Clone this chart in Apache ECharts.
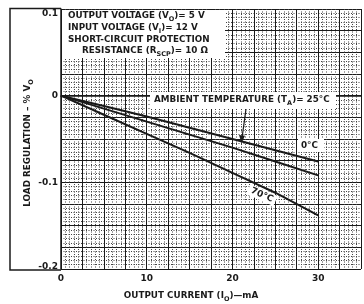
<!DOCTYPE html>
<html><head><meta charset="utf-8">
<script src="https://cdn.jsdelivr.net/npm/echarts@6/dist/echarts.min.js"></script>
<style>html,body{margin:0;padding:0;background:#fff}#c{width:364px;height:304px}</style>
</head><body><div id="c"></div>
<script>
// Output current (mA)
const current = [0, 5, 10, 15, 20, 25, 30];
// Load regulation (% VO) per ambient temperature
const reg0C  = [0, -0.012, -0.024, -0.037, -0.050, -0.063, -0.076];
const reg25C = [0, -0.015, -0.030, -0.045, -0.060, -0.076, -0.092];
const reg70C = [0, -0.022, -0.044, -0.066, -0.089, -0.112, -0.138];
const xTickLabels = {0: '0', 10: '10', 20: '20', 30: '30'};
const yTickLabels = {'0.1': '0.1', '0': '0', '-0.1': '-0.1', '-0.2': '-0.2'};

const FONT = 'DejaVu Sans';
const INK = '#1a1a1a';
const pair = arr => current.map((x, i) => [x, arr[i]]);

const chart = echarts.init(document.getElementById('c'), null, {renderer: 'canvas'});
const mk = (name, data) => ({
  name, type: 'line', data: pair(data), symbol: 'none', smooth: false,
  lineStyle: {color: INK, width: 2}, z: 5, animation: false
});
const sub = {
  a: {fontFamily: FONT, fontWeight: 'bold', fontSize: 8.8, color: INK, lineHeight: 13, verticalAlign: 'middle'},
  s: {fontFamily: FONT, fontWeight: 'bold', fontSize: 6.5, color: INK, lineHeight: 7, verticalAlign: 'bottom'}
};
function txt(x, y, text, extra) {
  return {
    type: 'text', x, y, z: 20,
    style: Object.assign({text, fill: INK, font: 'bold 8.8px ' + FONT, rich: sub, align: 'left', verticalAlign: 'middle'}, extra || {})
  };
}
chart.setOption({
  animation: false,
  grid: {left: 61, top: 9, right: -8, bottom: 35, containLabel: false},
  xAxis: {
    type: 'value', min: 0, max: 35, interval: 2.5,
    axisLine: {show: true, lineStyle: {color: INK, width: 1.5}},
    axisTick: {show: false},
    axisLabel: {
      margin: 5, color: INK, fontFamily: FONT, fontWeight: 'bold', fontSize: 9,
      formatter: v => (xTickLabels[Math.round(v)] !== undefined && Math.abs(v - Math.round(v)) < 1e-6) ? xTickLabels[Math.round(v)] : ''
    },
    splitLine: {show: true, lineStyle: {color: '#1a1a1a', width: 1}},
    minorTick: {show: false, splitNumber: 5},
    minorSplitLine: {show: true, lineStyle: {color: '#444', width: 1, type: [1, 1.5]}}
  },
  yAxis: {
    type: 'value', min: -0.2, max: 0.1, interval: 0.025,
    axisLine: {show: true, lineStyle: {color: INK, width: 1.5}},
    axisTick: {show: false},
    axisLabel: {
      margin: 3, color: INK, fontFamily: FONT, fontWeight: 'bold', fontSize: 9,
      formatter: v => {
        const r = Math.round(v * 10) / 10;
        if (Math.abs(v - r) > 1e-6) return '';
        const k = r === 0 ? '0' : String(r);
        const t = yTickLabels[k] || '';
        if (k === '0.1') return '{top|' + t + '}';
        if (k === '-0.2') return '{bot|' + t + '}';
        return t;
      },
      rich: {
        top: {fontFamily: FONT, fontWeight: 'bold', fontSize: 9, color: INK, padding: [9, 0, 0, 0]},
        bot: {fontFamily: FONT, fontWeight: 'bold', fontSize: 9, color: INK, padding: [0, 0, 5, 0]}
      }
    },
    splitLine: {show: true, lineStyle: {color: '#1a1a1a', width: 1}},
    minorTick: {show: false, splitNumber: 5},
    minorSplitLine: {show: true, lineStyle: {color: '#444', width: 1, type: [1, 1.5]}}
  },
  series: [mk('0°C', reg0C), mk('25°C', reg25C), mk('70°C', reg70C)],
  graphic: [
    {type: 'polyline', z: 20, shape: {points: [[61, 270], [10, 270], [10, 8.5], [61, 8.5]]}, style: {stroke: INK, lineWidth: 1.5, fill: null}},
    {type: 'rect', z: 15, shape: {x: 62, y: 10, width: 163, height: 48}, style: {fill: '#fff'}},
    txt(68, 16, '{a|OUTPUT VOLTAGE (V}{s|O}{a|)= 5 V}'),
    txt(68, 28, '{a|INPUT VOLTAGE (V}{s|I}{a|)= 12 V}'),
    txt(68, 40, '{a|SHORT-CIRCUIT PROTECTION}'),
    txt(82, 51, '{a|RESISTANCE (R}{s|SCP}{a|)= 10 Ω}'),
    {type: 'rect', z: 15, shape: {x: 150, y: 92, width: 186, height: 17}, style: {fill: '#fff'}},
    txt(154, 100, '{a|AMBIENT TEMPERATURE (T}{s|A}{a|)= 25°C}'),
    {type: 'line', z: 20, shape: {x1: 246, y1: 109, x2: 242, y2: 138}, style: {stroke: INK, lineWidth: 1.2}},
    {type: 'polygon', z: 20, shape: {points: [[241.5, 143], [239, 135], [245, 135.8]]}, style: {fill: INK}},
    {type: 'rect', z: 15, shape: {x: 298, y: 139, width: 26, height: 13}, style: {fill: '#fff'}},
    txt(301, 146, '{a|0°C}'),
    {type: 'text', z: 20, x: 262, y: 195, rotation: -24 * Math.PI / 180,
      style: {text: '70°C', fill: INK, font: 'bold 9px ' + FONT, align: 'center', verticalAlign: 'middle', backgroundColor: '#fff', padding: [1, 3]}},
    {type: 'text', z: 20, x: 28, y: 143, rotation: Math.PI / 2,
      style: {text: '{a|LOAD REGULATION – % V}{s|O}', rich: sub, fill: INK, align: 'center', verticalAlign: 'middle'}},
    txt(191, 296, '{a|OUTPUT CURRENT (I}{s|O}{a|)—mA}', {align: 'center'})
  ]
});
</script></body></html>
